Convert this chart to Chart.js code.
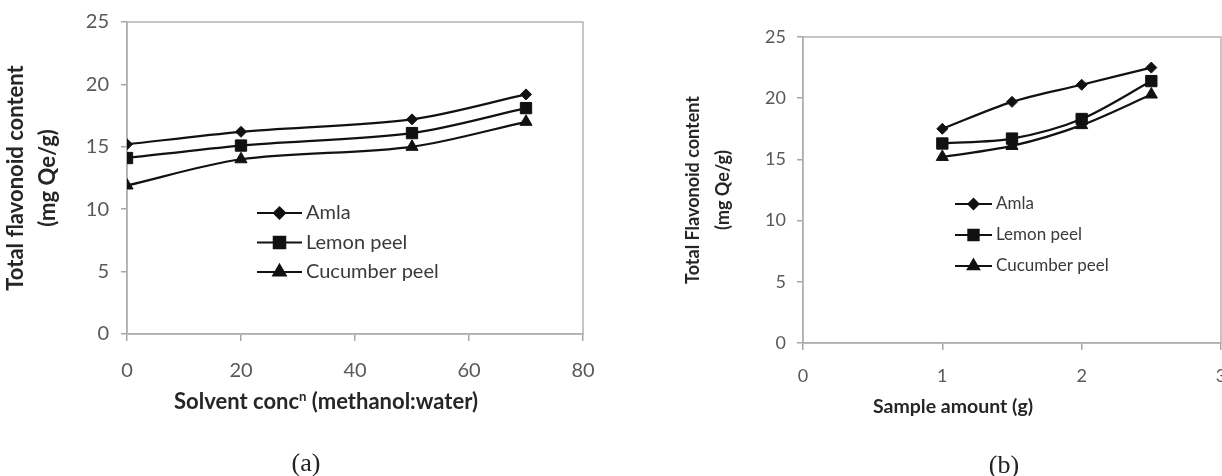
<!DOCTYPE html>
<html><head><meta charset="utf-8">
<script src="https://cdn.jsdelivr.net/npm/chart.js@4.4.1/dist/chart.umd.min.js"></script>
<style>
html,body{margin:0;padding:0;background:#fff;width:1222px;height:476px;overflow:hidden;}
#wrap{position:relative;width:1222px;height:476px;}
.cv{position:absolute;top:0;height:476px;}
.xt{position:absolute;font-family:Lato,'Open Sans',sans-serif;font-weight:bold;color:#262626;white-space:nowrap;transform:translate(-50%,-50%);line-height:1;}
.xt .sup{font-size:60%;vertical-align:0.6em;}
.cap{position:absolute;font-family:'Liberation Serif',serif;color:#222;transform:translate(-50%,-50%);font-size:26px;line-height:1;}
</style></head>
<body><div id="wrap">
<div class="cv" style="left:0;width:612px"><canvas id="ca"></canvas></div>
<div class="cv" style="left:612px;width:610px"><canvas id="cb"></canvas></div>
<div class="xt" style="left:326px;top:401px;font-size:22px">Solvent conc<span class="sup">n</span> (methanol:water)</div>
<div class="xt" style="left:953px;top:406px;font-size:19.5px">Sample amount (g)</div>
<div class="cap" style="left:306px;top:463px">(a)</div>
<div class="cap" style="left:1004px;top:465px">(b)</div>
</div>
<script>
// ---- data ----
const seriesNames = ['Amla', 'Lemon peel', 'Cucumber peel'];
const solventConc = [0, 20, 50, 70];
const amlaA = [15.2, 16.2, 17.2, 19.2];
const lemonA = [14.1, 15.1, 16.1, 18.1];
const cucumberA = [11.9, 14.0, 15.0, 17.0];
const sampleAmount = [1, 1.5, 2, 2.5];
const amlaB = [17.5, 19.7, 21.1, 22.5];
const lemonB = [16.3, 16.7, 18.3, 21.4];
const cucumberB = [15.2, 16.1, 17.8, 20.3];
const yTitleA = ['Total flavonoid content', '(mg Qe/g)'];
const yTitleB = ['Total Flavonoid content', '(mg Qe/g)'];

const pointStyles = ['rectRot', 'rect', 'triangle'];
const pointRadii = [5.5, 8, 7];

function makeDatasets(xs, ys) {
  return ys.map((vals, i) => ({
    label: seriesNames[i],
    data: xs.map((x, j) => ({x: x, y: vals[j]})),
    borderColor: '#111', backgroundColor: '#111', borderWidth: 2.2,
    pointStyle: pointStyles[i], pointRadius: pointRadii[i], pointBorderWidth: 1,
    tension: 0.3
  }));
}

function fixed(w, h) {
  return function (s) {
    if (w != null) s.width = w;
    if (h != null) s.height = h;
    s.paddingLeft = 0; s.paddingRight = 0; s.paddingTop = 0; s.paddingBottom = 0;
  };
}

const plotBox = {
  id: 'plotBox',
  beforeDatasetsDraw(chart) {
    const a = chart.chartArea, ctx = chart.ctx;
    ctx.save();
    ctx.strokeStyle = '#b4b4b4'; ctx.lineWidth = 1.5;
    ctx.strokeRect(a.left, a.top, a.right - a.left, a.bottom - a.top);
    ctx.restore();
  }
};

const inLegend = {
  id: 'inLegend',
  afterDraw(chart, args, o) {
    const ctx = chart.ctx;
    chart.data.datasets.forEach((ds, i) => {
      const y = o.y0 + i * o.dy;
      ctx.save();
      ctx.strokeStyle = ds.borderColor; ctx.lineWidth = ds.borderWidth;
      ctx.beginPath(); ctx.moveTo(o.x0, y); ctx.lineTo(o.x1, y); ctx.stroke();
      ctx.fillStyle = ds.backgroundColor;
      Chart.helpers.drawPoint(ctx, {pointStyle: ds.pointStyle, radius: ds.pointRadius * o.scale, borderWidth: 1, rotation: 0}, (o.x0 + o.x1) / 2, y);
      ctx.fillStyle = o.color; ctx.font = o.font;
      ctx.textBaseline = 'middle'; ctx.textAlign = 'left';
      ctx.fillText(ds.label, o.x1 + o.gap, y);
      ctx.restore();
    });
  }
};

function makeChart(id, cfg) {
  return new Chart(document.getElementById(id), {
    type: 'line',
    data: {datasets: makeDatasets(cfg.xs, cfg.ys)},
    options: {
      responsive: true, maintainAspectRatio: false, animation: false, devicePixelRatio: 1,
      layout: {padding: cfg.padding, autoPadding: false},
      plugins: {legend: {display: false}, tooltip: {enabled: false}, inLegend: cfg.legend},
      scales: {
        x: {
          type: 'linear', min: cfg.xmin, max: cfg.xmax,
          ticks: {stepSize: cfg.xstep, color: '#595959', font: {family: 'Lato', size: cfg.tickSize}, padding: cfg.xTickPad},
          grid: {drawOnChartArea: false, drawTicks: true, tickLength: 7, color: '#a6a6a6', lineWidth: 1.5},
          border: {display: true, color: '#a6a6a6', width: 1.5},
          afterFit: fixed(null, cfg.xH)
        },
        y: {
          type: 'linear', min: 0, max: 25,
          ticks: {stepSize: 5, color: '#595959', font: {family: 'Lato', size: cfg.tickSize}, padding: cfg.yTickPad},
          grid: {drawOnChartArea: false, drawTicks: true, tickLength: 6, color: '#a6a6a6', lineWidth: 1.5},
          border: {display: true, color: '#a6a6a6', width: 1.5},
          title: {display: true, text: cfg.yTitle, color: '#262626',
                  font: {family: 'Lato', size: cfg.titleSize, weight: 'bold', lineHeight: cfg.titleLH},
                  padding: {top: cfg.titlePad, bottom: 0}},
          afterFit: fixed(cfg.yW, null)
        }
      }
    },
    plugins: [plotBox, inLegend]
  });
}

makeChart('ca', {
  xs: solventConc, ys: [amlaA, lemonA, cucumberA],
  xmin: 0, xmax: 80, xstep: 20,
  padding: {top: 22, left: 0, right: 29, bottom: 0},
  xH: 142, yW: 127, tickSize: 20, xTickPad: 18, yTickPad: 12,
  yTitle: yTitleA, titleSize: 22, titleLH: 32 / 22, titlePad: 0,
  legend: {x0: 257, x1: 302, y0: 213, dy: 29.5, gap: 4, color: '#3a3a3a', font: '20px Lato', scale: 1}
});

makeChart('cb', {
  xs: sampleAmount, ys: [amlaB, lemonB, cucumberB],
  xmin: 0, xmax: 3, xstep: 1,
  padding: {top: 37, left: 0, right: 1, bottom: 0},
  xH: 133, yW: 191, tickSize: 18, xTickPad: 15, yTickPad: 11,
  yTitle: yTitleB, titleSize: 18, titleLH: 30 / 18, titlePad: 66,
  legend: {x0: 343, x1: 380, y0: 204, dy: 31, gap: 4, color: '#3a3a3a', font: '17px Lato', scale: 0.9}
});
</script>
</body></html>
